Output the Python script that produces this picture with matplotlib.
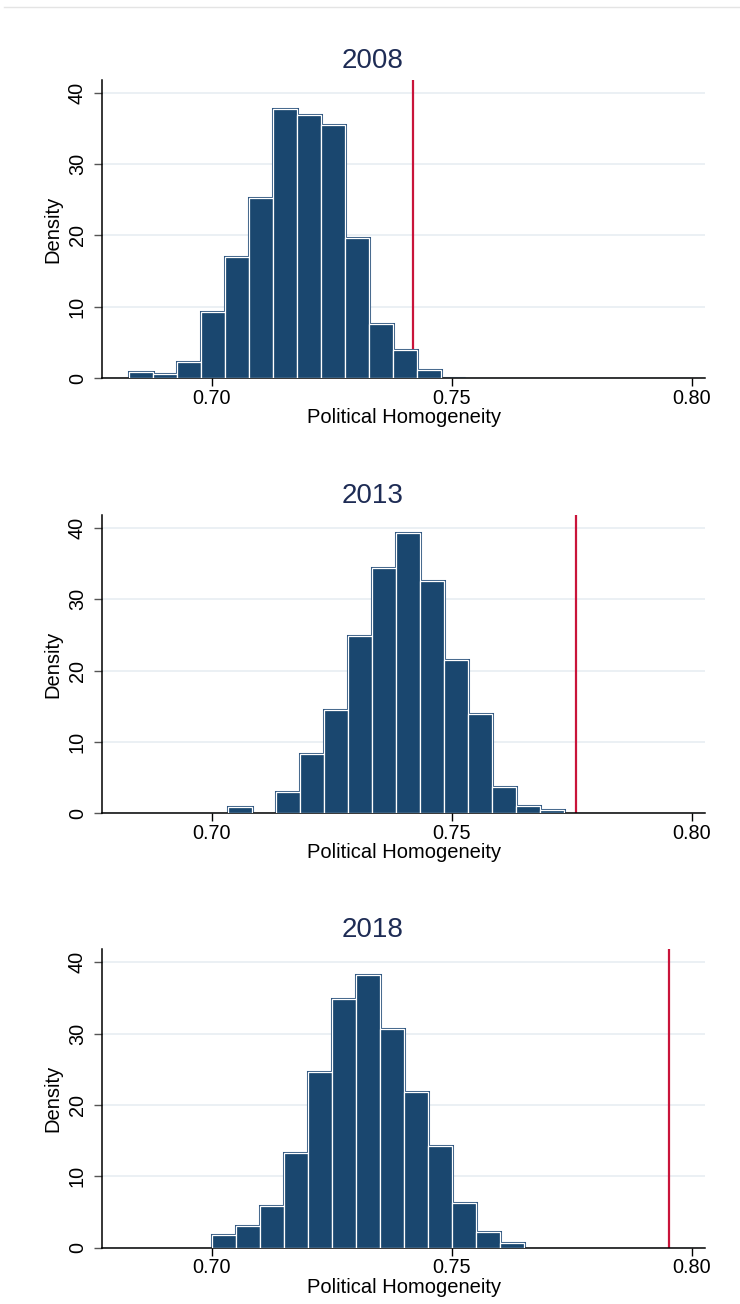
#!/usr/bin/env python3
"""Histograms of simulated political homogeneity with the observed value marked."""
import numpy as np
import matplotlib
matplotlib.use('Agg')
import matplotlib.pyplot as plt
from matplotlib.lines import Line2D

# bin width shared by all panels
BIN_W = 0.005

years = ['2008', '2013', '2018']

# left edge of the first bin, per year
start_2008 = 0.6828
start_2013 = 0.70333
start_2018 = 0.7001

# density per bin
dens_2008 = [0.9, 0.6, 2.3, 9.3, 17.0, 25.3, 37.7, 36.9, 35.5, 19.7, 7.6, 4.0, 1.2, 0.1]
dens_2013 = [0.9, 0.0, 3.0, 8.3, 14.5, 24.9, 34.3, 39.3, 32.5, 21.5, 13.9, 3.7, 1.0, 0.45]
dens_2018 = [1.8, 3.0, 5.9, 13.2, 24.6, 34.9, 38.2, 30.7, 21.8, 14.3, 6.2, 2.15, 0.65]

# observed homogeneity (red line)
observed = [0.7419, 0.7760, 0.7953]

xticks = [0.70, 0.75, 0.80]
xticklabels = ['0.70', '0.75', '0.80']
yticks = [0, 10, 20, 30, 40]

NAVY = '#1a476f'
RED = '#c9143a'
TITLE = '#1e2c55'
GRID = '#e8eef2'

plt.rcParams['font.family'] = ['Liberation Sans', 'DejaVu Sans']


def draw_panel(ax, year, start, dens, obs):
    dens = np.asarray(dens)
    lefts = start + BIN_W * np.arange(len(dens))
    # empty bins draw nothing
    keep = dens > 0
    lefts, dens = lefts[keep], dens[keep]
    ax.set_axisbelow(True)
    ax.grid(axis='y', color=GRID, lw=1.2)
    ax.axvline(obs, color=RED, lw=1.6, zorder=1)
    # dark outline then white inner edge, like the Stata bars
    ax.bar(lefts, dens, width=BIN_W, align='edge', color=NAVY,
           edgecolor='#2f5680', lw=2.2, zorder=2)
    ax.bar(lefts, dens, width=BIN_W, align='edge', color=NAVY,
           edgecolor='white', lw=0.9, zorder=3)

    ax.set_xlim(0.67721, 0.80277)
    ax.set_ylim(0, 41.78)
    ax.set_xticks(xticks)
    ax.set_xticklabels(xticklabels)
    ax.set_yticks(yticks)
    for s in ['top', 'right']:
        ax.spines[s].set_visible(False)
    for s in ['left', 'bottom']:
        ax.spines[s].set_linewidth(1.1)
    ax.tick_params(axis='x', length=6, width=1, labelsize=14.3, pad=1.5)
    ax.tick_params(axis='y', length=6, width=1, color='#555555',
                   labelsize=14.3, pad=5, labelrotation=90)
    for lbl in ax.get_yticklabels():
        lbl.set_va('center')
    ax.set_xlabel('Political Homogeneity', fontsize=14.5, labelpad=0.5)
    ax.set_ylabel('Density', fontsize=14.5)
    ax.yaxis.set_label_coords(-0.0657, 0.5)
    ax.set_title(year, fontsize=20, color=TITLE, x=0.448, pad=9)


def main():
    fig = plt.figure(figsize=(7.4, 13.04), dpi=100)
    fig.add_artist(Line2D([4 / 740, 1], [1 - 7 / 1304] * 2, color='#e4e4e4', lw=1))

    left, width, height = 0.1382, 0.8145, 0.22875
    bottoms = [0.70990, 0.37630, 0.04317]
    starts = [start_2008, start_2013, start_2018]
    data = [dens_2008, dens_2013, dens_2018]

    for year, b, st, d, obs in zip(years, bottoms, starts, data, observed):
        ax = fig.add_axes([left, b, width, height])
        draw_panel(ax, year, st, d, obs)

    fig.savefig('out.png', dpi=100, facecolor='white')
    plt.close(fig)


if __name__ == '__main__':
    main()
